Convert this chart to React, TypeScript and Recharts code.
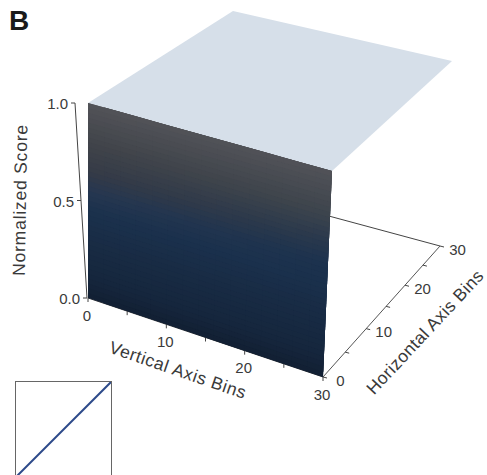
import React from "react";
import { ComposedChart, LineChart, Line, Scatter, XAxis, YAxis } from "recharts";

const W = 487;
const H = 475;

// Axis values
const verticalBinTicks = [0, 5, 10, 15, 20, 25, 30];
const horizontalBinTicks = [0, 5, 10, 15, 20, 25, 30];
const scoreTicks = [0, 0.5, 1];
const verticalBinLabels = [0, 10, 20, 30];
const horizontalBinLabels = [0, 10, 20, 30];
const scoreLabels = ["0.0", "0.5", "1.0"];

// Surface: the wall rises from 0 to 1 along the Horizontal bin 0 edge; the plateau stays at 1
const wallColumns = [0, 2, 4, 6, 8, 10, 12, 14, 16, 18, 20, 22, 24, 26, 28, 30];
const wallRows = [
  0, 0.025, 0.05, 0.075, 0.1, 0.125, 0.15, 0.175, 0.2, 0.225, 0.25, 0.275, 0.3, 0.325, 0.35, 0.375, 0.4,
  0.425, 0.45, 0.475, 0.5, 0.525, 0.55, 0.575, 0.6, 0.625, 0.65, 0.675, 0.7, 0.725, 0.75, 0.775, 0.8, 0.825,
  0.85, 0.875, 0.9, 0.925, 0.95, 0.975, 1,
];
const plateauScore = 1;
const plateauCorners = [
  [0, 0],
  [30, 0],
  [30, 30],
  [0, 30],
];

// Colour ramp of the surface, read at each end of the wall
const rampStops = [0, 0.1, 0.3, 0.45, 0.55, 0.65, 0.8, 1];
const rampAtBin0 = ["#121f33", "#15263c", "#192c45", "#1b314d", "#263750", "#353b47", "#41444a", "#525358"];
const rampAtBin30 = ["#121f33", "#15263c", "#182b44", "#1a304c", "#1c324e", "#28384d", "#3e454d", "#515258"];

// Inset
const insetDiagonal = [
  { x: 0, y: 0 },
  { x: 1, y: 1 },
];

// Perspective frame of the 3D box
const FRAME = {
  base: [[88, 298], [323, 377], [440, 246], [225, 188]],
  top: [[88, 103], [332, 171], [452, 61], [233, 11]],
  foreshorten: 1.17,
};
const lerp = (a: number, b: number, t: number) => a + (b - a) * t;

function project(v: number, h: number, s: number): [number, number] {
  const a = v / 30;
  const t0 = h / 30;
  const b = (t0 * FRAME.foreshorten) / (1 + (FRAME.foreshorten - 1) * t0);
  const pick = (c: number[][], i: number) =>
    lerp(lerp(c[0][i], c[1][i], a), lerp(c[3][i], c[2][i], a), b);
  return [lerp(pick(FRAME.base, 0), pick(FRAME.top, 0), s), lerp(pick(FRAME.base, 1), pick(FRAME.top, 1), s)];
}

const hexToRgb = (c: string) => [1, 3, 5].map((i) => parseInt(c.slice(i, i + 2), 16));
function rampColor(v: number, s: number) {
  let i = 0;
  while (i < rampStops.length - 2 && s > rampStops[i + 1]) i++;
  const t = (s - rampStops[i]) / (rampStops[i + 1] - rampStops[i]);
  const at = (ramp: string[]) => {
    const p = hexToRgb(ramp[i]);
    const q = hexToRgb(ramp[i + 1]);
    return p.map((x, k) => lerp(x, q[k], t));
  };
  const l = at(rampAtBin0);
  const r = at(rampAtBin30);
  const rgb = l.map((x, k) => Math.round(lerp(x, r[k], v / 30)));
  return `rgb(${rgb[0]},${rgb[1]},${rgb[2]})`;
}

type Cell = { x: number; y: number; pts: [number, number][]; fill: string };
function makeCell(corners: [number, number][], fill: string): Cell {
  const [x, y] = corners[0];
  return { x, y, pts: corners.map(([px, py]) => [px - x, py - y] as [number, number]), fill };
}

const plateauData: Cell[] = [
  makeCell(plateauCorners.map(([v, h]) => project(v, h, plateauScore)), "#d6dfe9"),
];

// Each cell reaches over its next neighbours, which paint on top of it, so no seams show
const wallData: Cell[] = [];
for (let i = 0; i + 1 < wallRows.length; i++) {
  for (let j = 0; j + 1 < wallColumns.length; j++) {
    const s0 = wallRows[i];
    const s1 = wallRows[i + 2] ?? wallRows[i + 1];
    const v0 = wallColumns[j];
    const v1 = wallColumns[j + 2] ?? wallColumns[j + 1];
    wallData.push(
      makeCell(
        [project(v0, 0, s0), project(v1, 0, s0), project(v1, 0, s1), project(v0, 0, s1)],
        rampColor(v0 + 1, s0 + 0.0125)
      )
    );
  }
}

const PolygonShape = (p: any) => {
  const d = p.payload as Cell;
  const points = d.pts.map(([x, y]) => `${p.cx + x},${p.cy + y}`).join(" ");
  return <polygon points={points} fill={d.fill} />;
};

const TickShape = (p: any) => {
  const d = p.payload;
  return <line x1={p.cx} y1={p.cy} x2={p.cx + d.dx} y2={p.cy + d.dy} stroke="#444" strokeWidth={1} />;
};

const TextShape = (p: any) => {
  const d = p.payload;
  return (
    <text
      x={p.cx}
      y={p.cy}
      fontFamily="Liberation Sans, Arial, sans-serif"
      fontSize={d.size}
      fontWeight={d.weight ?? 400}
      fill={d.color ?? "#3a3a3a"}
      textAnchor={d.anchor ?? "middle"}
      dominantBaseline="central"
      letterSpacing={d.spacing ?? 0}
      transform={d.rotate ? `rotate(${d.rotate} ${p.cx} ${p.cy})` : undefined}
    >
      {d.text}
    </text>
  );
};

const pt = ([x, y]: [number, number]) => ({ x, y });

// z axis stands slightly left of the wall
const scoreAxisPoint = (s: number): [number, number] => {
  const [x, y] = project(0, 0, s);
  return [x - 1 - 12 * s, y];
};

const backAxis = [pt(project(30, 30, 0)), pt(project(0, 30, 0))];
const horizontalAxis = [pt(project(30, 0, 0)), pt(project(30, 30, 0))];
const verticalAxis = [pt(project(0, 0, 0)), pt(project(30, 0, 0))];
const scoreAxis = [pt(scoreAxisPoint(1)), pt(scoreAxisPoint(0))];

const tickData = [
  ...verticalBinTicks.map((v) => ({ ...pt(project(v, 0, 0)), dx: 0, dy: 4 })),
  ...horizontalBinTicks.map((h) => ({ ...pt(project(30, h, 0)), dx: 4, dy: 1 })),
  ...scoreTicks.map((s) => ({ ...pt(scoreAxisPoint(s)), dx: -4, dy: 0 })),
];

const textData = [
  { x: 9, y: 20, text: "B", size: 28, weight: 700, anchor: "start", color: "#1a1a1a" },
  ...scoreLabels.map((text, i) => {
    const [x, y] = scoreAxisPoint(scoreTicks[i]);
    return { x: x - 7, y: y + 0.5, text, size: 15, anchor: "end" };
  }),
  ...verticalBinLabels.map((v) => {
    const [x, y] = project(v, 0, 0);
    return { x: x - 1, y: y + 17, text: String(v), size: 15 };
  }),
  ...horizontalBinLabels.map((h) => {
    const [x, y] = project(30, h, 0);
    return { x: x + 17.5, y: y + 3, text: String(h), size: 15 };
  }),
  { x: 20, y: 200, text: "Normalized Score", size: 17.5, rotate: -89, spacing: 0.8 },
  { x: 178, y: 370, text: "Vertical Axis Bins", size: 17.5, rotate: 19, spacing: 0.6 },
  { x: 425, y: 332, text: "Horizontal Axis Bins", size: 17.5, rotate: -47, spacing: 0.4 },
];

const axisLine = { stroke: "#444", strokeWidth: 1, dot: false, isAnimationActive: false, legendType: "none" as const };

export default function App() {
  return (
    <div style={{ position: "absolute", left: 0, top: 0, width: W, height: H, overflow: "hidden", background: "#fff" }}>
      <ComposedChart width={W} height={H} margin={{ top: 0, right: 0, bottom: 0, left: 0 }}>
        <XAxis dataKey="x" type="number" domain={[0, W]} hide />
        <YAxis dataKey="y" type="number" domain={[0, H]} reversed hide />
        <Line data={backAxis} dataKey="y" {...axisLine} />
        <Line data={horizontalAxis} dataKey="y" {...axisLine} stroke="#555" />
        <Line data={verticalAxis} dataKey="y" {...axisLine} />
        <Line data={scoreAxis} dataKey="y" {...axisLine} />
        <Scatter data={tickData} shape={TickShape} isAnimationActive={false} />
        <Scatter data={plateauData} shape={PolygonShape} isAnimationActive={false} />
        <Scatter data={wallData} shape={PolygonShape} isAnimationActive={false} />
        <Scatter data={textData} shape={TextShape} isAnimationActive={false} />
      </ComposedChart>
      <div
        style={{
          position: "absolute",
          left: 15,
          top: 381,
          width: 97,
          height: 97,
          boxSizing: "border-box",
          border: "1px solid #666",
        }}
      >
        <LineChart width={95} height={95} margin={{ top: 0, right: 0, bottom: 0, left: 0 }} data={insetDiagonal}>
          <XAxis dataKey="x" type="number" domain={[0, 1]} hide />
          <YAxis type="number" domain={[0, 1]} hide />
          <Line dataKey="y" stroke="#2d4a8a" strokeWidth={2} dot={false} isAnimationActive={false} />
        </LineChart>
      </div>
    </div>
  );
}
